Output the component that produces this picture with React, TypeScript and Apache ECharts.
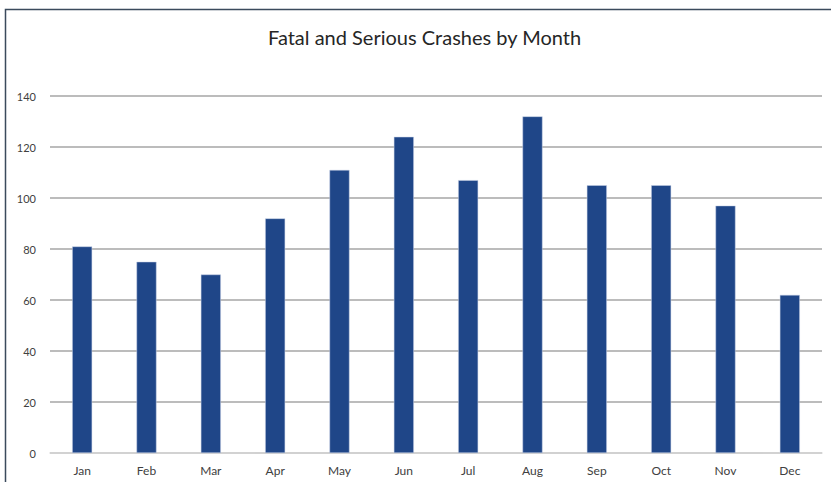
import React, { useEffect, useRef } from "react";
import * as echarts from "echarts";

const months = ["Jan", "Feb", "Mar", "Apr", "May", "Jun", "Jul", "Aug", "Sep", "Oct", "Nov", "Dec"];
const crashes = [81, 75, 70, 92, 111, 124, 107, 132, 105, 105, 97, 62];
const titleText = "Fatal and Serious Crashes by Month";

export default function App() {
  const ref = useRef<HTMLDivElement>(null);
  useEffect(() => {
    const chart = echarts.init(ref.current!, null, { renderer: "svg" });
    chart.setOption({
      animation: false,
      backgroundColor: "#ffffff",
      title: {
        text: titleText,
        left: 263,
        top: 22,
        textStyle: { fontFamily: "Lato", fontSize: 20, fontWeight: "normal", color: "#262626" },
      },
      graphic: [
        {
          type: "polyline",
          shape: { points: [[5.5, 482], [5.5, 9.5], [831, 9.5]] },
          style: { stroke: "#3b4a5c", lineWidth: 1.5, fill: "none" },
          silent: true,
        },
      ],
      grid: { left: 50, right: 9, top: 96, bottom: 29, containLabel: false },
      xAxis: {
        type: "category",
        data: months,
        axisLine: { show: true, lineStyle: { color: "#d9d9d9", width: 1.5 } },
        axisTick: { show: false },
        axisLabel: { color: "#404040", fontFamily: "Lato", fontSize: 12, margin: 11 },
      },
      yAxis: {
        type: "value",
        min: 0,
        max: 140,
        interval: 20,
        axisLine: { show: false },
        axisTick: { show: false },
        axisLabel: { color: "#404040", fontFamily: "Lato", fontSize: 11, margin: 14 },
        splitLine: { lineStyle: { color: "#a6a6a6", width: 1.5 } },
      },
      series: [
        {
          type: "bar",
          data: crashes,
          barWidth: 20,
          itemStyle: { color: "#1f4688", borderColor: "#c9d3e6", borderWidth: 0.5 },
        },
      ],
    });
    return () => chart.dispose();
  }, []);
  return (
    <div
      ref={ref}
      style={{ position: "fixed", left: 0, top: 0, width: 831, height: 482, background: "#fff" }}
    />
  );
}
